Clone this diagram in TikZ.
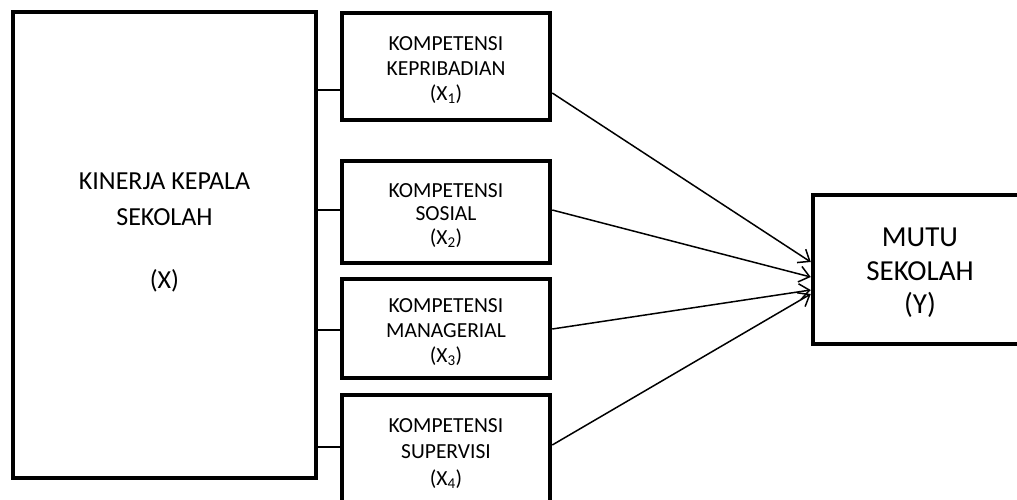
\documentclass[tikz,border=0pt]{standalone}
\usepackage{fontspec}
\setmainfont{Carlito}
\usetikzlibrary{arrows.meta}
\begin{document}
\begin{tikzpicture}[x=1pt,y=-1pt,
  box/.style={draw, line width=4.5pt, inner sep=0pt},
  bigtxt/.style={align=center, inner sep=0pt, anchor=north, font=\fontsize{26}{36}\selectfont},
  smtxt/.style={align=center, inner sep=0pt, anchor=north, font=\fontsize{21.5}{25}\selectfont},
  ytxt/.style={align=center, inner sep=0pt, anchor=north, font=\fontsize{29}{33.5}\selectfont},
  conn/.style={line width=1.8pt},
  arr/.style={line width=1.5pt, -{Straight Barb[length=10pt,width=16pt,line width=1.5pt]}}]
\useasboundingbox (0,0) rectangle (1017,499);
\fill[white] (0,0) rectangle (1017,499);
\clip (0,0) rectangle (1017,499);
% boxes
\node[box, minimum width=303pt, minimum height=466pt] (big) at (164.5,245) {};
\node[box, minimum width=208pt, minimum height=107pt] (b1) at (446,66.5) {};
\node[box, minimum width=208pt, minimum height=102pt] (b2) at (446,212) {};
\node[box, minimum width=208pt, minimum height=99pt] (b3) at (446,328.5) {};
\node[box, minimum width=208pt, minimum height=115pt] (b4) at (446,452.5) {};
\node[box, minimum width=217pt, minimum height=149pt] (yb) at (921.5,269.5) {};
% texts
\node[bigtxt] (bigT) at (164.5,173) {KINERJA KEPALA\\SEKOLAH\\[27pt](X)};
\node[smtxt] (t1) at (446,36) {KOMPETENSI\\KEPRIBADIAN\\(X\textsubscript{1})};
\node[smtxt, font=\fontsize{21.5}{23.5}\selectfont] (t2) at (446,183) {KOMPETENSI\\SOSIAL\\(X\textsubscript{2})};
\node[smtxt] (t3) at (446,298) {KOMPETENSI\\MANAGERIAL\\(X\textsubscript{3})};
\node[smtxt, font=\fontsize{21.5}{26.5}\selectfont] (t4) at (446,418) {KOMPETENSI\\SUPERVISI\\(X\textsubscript{4})};
\node[ytxt] (yT) at (920,228) {MUTU\\SEKOLAH\\(Y)};
% connector heights
\coordinate (h1) at (0,90);
\coordinate (h2) at (0,210);
\coordinate (h3) at (0,330);
\coordinate (h4) at (0,447);
\draw[conn] (big.east |- h1) -- (b1.west |- h1);
\draw[conn] (big.east |- h2) -- (b2.west |- h2);
\draw[conn] (big.east |- h3) -- (b3.west |- h3);
\draw[conn] (big.east |- h4) -- (b4.west |- h4);
% arrows
\coordinate (s1) at (0,93);
\coordinate (s2) at (0,210);
\coordinate (s3) at (0,329);
\coordinate (s4) at (0,445);
\coordinate (e1) at (0,262);
\coordinate (e2) at (0,277);
\coordinate (e3) at (0,290);
\coordinate (e4) at (0,294);
\draw[arr] (b1.east |- s1) -- (yb.west |- e1);
\draw[arr] (b2.east |- s2) -- (yb.west |- e2);
\draw[arr] (b3.east |- s3) -- (yb.west |- e3);
\draw[arr] (b4.east |- s4) -- (yb.west |- e4);
\end{tikzpicture}
\end{document}
